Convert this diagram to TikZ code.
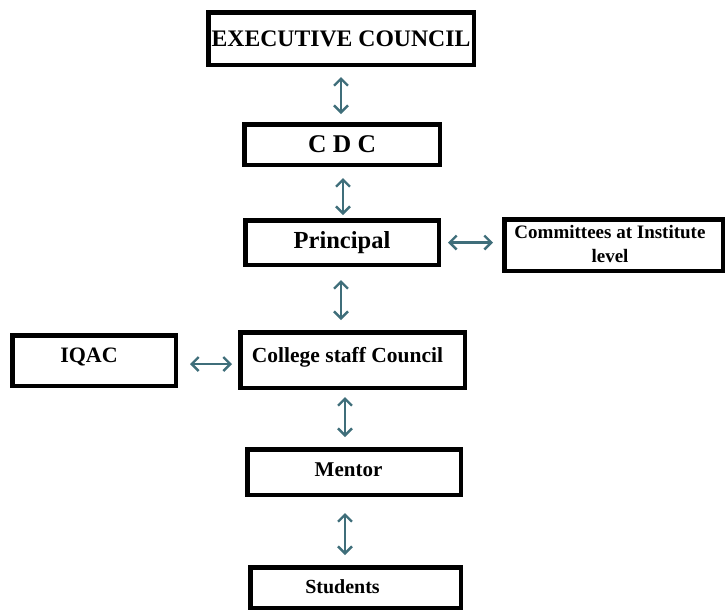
\documentclass[tikz,border=0pt]{standalone}
\usepackage{fontspec}
\setmainfont{Liberation Serif}
\usetikzlibrary{arrows.meta}
\definecolor{arrowteal}{HTML}{3F6E7A}
\tikzset{
  box/.style={draw=black, line width=4.5pt, fill=white, inner sep=0pt, align=center, font=\bfseries},
  biarrow/.style={draw=arrowteal, line width=2.4pt, {Straight Barb[length=7pt,width=14pt]}-{Straight Barb[length=7pt,width=14pt]}}
}
\begin{document}
\begin{tikzpicture}[x=1pt,y=-1pt]
\useasboundingbox (0,0) rectangle (726,614);
\node[box, minimum width=265.5pt, minimum height=52.5pt, font=\bfseries\fontsize{23.7}{26}\selectfont] (exec) at (341,38.5) {EXECUTIVE COUNCIL};
\node[box, minimum width=195.5pt, minimum height=40.5pt, font=\bfseries\fontsize{25.5}{28}\selectfont] (cdc) at (342,144.5) {C D C};
\node[box, minimum width=193.5pt, minimum height=44.5pt, font=\bfseries\fontsize{24.5}{27}\selectfont] (principal) at (342,242.5) {Principal};
\node[box, minimum width=218.5pt, minimum height=51.5pt] (committees) at (613.5,245) {};
\node[font=\bfseries\fontsize{19}{24.5}\selectfont, align=center] (committeestext) at (610,244) {Committees at Institute\\level};
\node[box, minimum width=163.5pt, minimum height=50.5pt] (iqac) at (94,360.5) {};
\node[font=\bfseries\fontsize{22}{25}\selectfont] (iqactext) at (89,357) {IQAC};
\node[box, minimum width=224.5pt, minimum height=55.5pt] (college) at (352.5,360) {};
\node[font=\bfseries\fontsize{21.5}{25}\selectfont] (collegetext) at (347.5,357) {College staff Council};
\node[box, minimum width=213.5pt, minimum height=45.5pt] (mentor) at (354,472) {};
\node[font=\bfseries\fontsize{21}{24}\selectfont] (mentortext) at (348.5,470) {Mentor};
\node[box, minimum width=210.5pt, minimum height=40.5pt] (students) at (355.5,587.5) {};
\node[font=\bfseries\fontsize{20}{24}\selectfont] (studentstext) at (342.5,587) {Students};
% vertical arrows
\draw[biarrow, shorten <=10pt, shorten >=8pt] (exec.south) -- (exec.south |- cdc.north);
\draw[biarrow, shorten <=11pt, shorten >=3pt] ([xshift=1pt]cdc.south) -- ([xshift=1pt]cdc.south |- principal.north);
\draw[biarrow, shorten <=13pt, shorten >=10pt] ([xshift=-1pt]principal.south) -- ([xshift=-1pt]principal.south |- college.north);
\draw[biarrow, shorten <=7pt, shorten >=10pt] ([xshift=-7.5pt]college.south) -- ([xshift=-7.5pt]college.south |- mentor.north);
\draw[biarrow, shorten <=16pt, shorten >=10pt] ([xshift=-9pt]mentor.south) -- ([xshift=-9pt]mentor.south |- students.north);
% horizontal arrows
\draw[biarrow, shorten <=7pt, shorten >=9pt] (principal.east) -- (principal.east -| committees.west);
\draw[biarrow, shorten <=12pt, shorten >=6pt] ([yshift=-3.5pt]iqac.east) -- ([yshift=-3.5pt]iqac.east -| college.west);
\end{tikzpicture}
\end{document}
